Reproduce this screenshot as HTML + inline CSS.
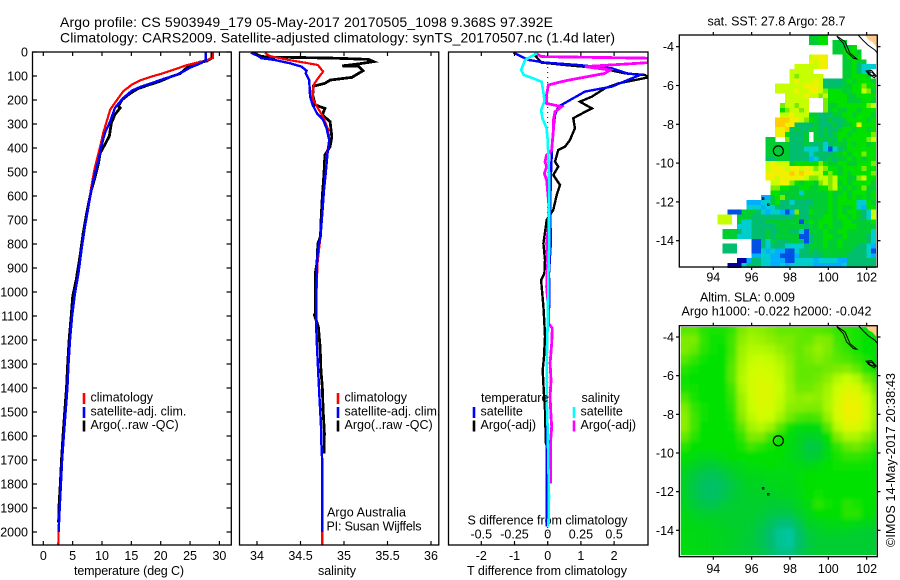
<!DOCTYPE html>
<html lang="en">
<head>
<meta charset="utf-8">
<title>Argo profile CS 5903949_179</title>
<style>
html,body{margin:0;padding:0;background:#fff;width:900px;height:580px;overflow:hidden}
svg{display:block}
text{font-family:"Liberation Sans",sans-serif;font-size:12.5px;fill:#000}
</style>
</head>
<body>
<svg id="chart" xmlns="http://www.w3.org/2000/svg" width="900" height="580" viewBox="0 0 900 580">
<defs>
<clipPath id="clip-t"><rect x="33" y="52" width="198" height="493"/></clipPath>
<clipPath id="clip-s"><rect x="240" y="52" width="199" height="493"/></clipPath>
<clipPath id="clip-d"><rect x="449" y="52" width="199" height="493"/></clipPath>
<clipPath id="clip-m2"><rect x="680.8" y="327" width="195.4" height="228"/></clipPath>
<filter id="sla-blur" x="-5%" y="-5%" width="110%" height="110%"><feGaussianBlur stdDeviation="2.4"/></filter>
</defs>
<text x="60" y="27" font-size="14" style="font-size:14px" textLength="493">Argo profile: CS 5903949_179 05-May-2017 20170505_1098 9.368S 97.392E</text>
<text x="60" y="42.5" style="font-size:14px" textLength="555">Climatology: CARS2009. Satellite-adjusted climatology: synTS_20170507.nc (1.4d later)</text>
<text x="74" y="575" textLength="110">temperature (deg C)</text>
<text x="318" y="575" textLength="38">salinity</text>
<text x="467" y="575" textLength="160">T difference from climatology</text>
<text x="467.5" y="524.5" textLength="160">S difference from climatology</text>
<text x="327" y="516.5" textLength="79">Argo Australia</text>
<text x="326.5" y="530.5" textLength="95">PI: Susan Wijffels</text>
<text x="707.5" y="25.5" textLength="138">sat. SST: 27.8 Argo: 28.7</text>
<text x="700" y="301.5" textLength="95">Altim. SLA: 0.009</text>
<text x="681.5" y="315.5" textLength="190">Argo h1000: -0.022 h2000: -0.042</text>
<text transform="translate(895,547) rotate(-90)" textLength="174">©IMOS 14-May-2017 20:38:43</text>
</svg>
<script>
// ---------- temperature panel data ----------
var climTempDepth=[0,25,35,45,55,74,88,104,118,136,164,212,240,289,337,393,442,490,574,643,726,824,921,1004,1100,1200,1300,1400,1500,1600,1700,1800,1900,2000,2054];
var climTemp=[28.9,28.9,27.8,26.1,24.4,22.2,20.5,18.2,16.5,15.1,13.6,12.2,11.4,10.8,10.2,9.7,9.2,8.7,8.1,7.7,7.1,6.5,6,5.4,4.9,4.55,4.3,4.1,3.8,3.5,3.2,3,2.8,2.6,2.55];
var satTempDepth=[0,32,45,65,85,100,112,132,146,161,192,233,289,337,393,449,504,574,643,726,824,921,1004,1100,1200,1300,1400,1500,1600,1700,1800,1900,2000];
var satTemp=[27.7,27.7,27,25,23.6,22.2,20.5,18.2,16.5,15.1,13.6,12.2,11.4,10.5,9.9,9.4,8.8,8.2,7.7,7.1,6.5,6,5.4,4.9,4.55,4.3,4.1,3.8,3.5,3.2,3,2.8,2.6];
var argoTempDepth=[0,25,38,42,53,67,90,104,122,140,154,178,199,226,233,261,296,351,386,421,463,532,574,657,754,851,949,1018,1100,1200,1300,1400,1500,1600,1700,1800,1900,1960];
var argoTemp=[28.75,28.75,27.8,26.7,25.3,24.4,23.3,21.6,19.9,17.6,16,14.5,13.4,12.8,13.1,12.2,11.6,11.25,10.5,9.7,9.4,8.7,8.2,7.5,6.8,6.25,5.6,5,4.75,4.4,4.15,3.95,3.65,3.35,3.1,2.9,2.65,2.6];
var tempTicks=[0,5,10,15,20,25,30];
var depthTicks=[0,100,200,300,400,500,600,700,800,900,1000,1100,1200,1300,1400,1500,1600,1700,1800,1900,2000];
// ---------- salinity panel data ----------
var climSalDepth=[3,17,33,47,54,82,110,137,193,228,269,325,367,436,506,575,672,769,880,992,1144,1228,1339,1450,1547,1631,1714,2000,2054];
var climSal=[34.09,34.15,34.36,34.59,34.7,34.76,34.7,34.65,34.64,34.69,34.76,34.82,34.83,34.8,34.79,34.77,34.75,34.73,34.695,34.685,34.685,34.69,34.705,34.72,34.735,34.74,34.75,34.75,34.75];
var satSalDepth=[3,17,26,33,47,61,78,89,117,186,221,256,283,318,367,422,506,575,672,769,825,880,992,1144,1228,1339,1450,1547,1631,1714,2000];
var satSal=[33.93,34.015,34.05,34.2,34.38,34.51,34.57,34.56,34.6,34.61,34.64,34.69,34.76,34.8,34.83,34.81,34.79,34.77,34.75,34.73,34.7,34.69,34.68,34.68,34.69,34.705,34.72,34.735,34.74,34.75,34.75];
var argoSalDepth=[3,17,22,22,26,31,40,50,58,58,78,106,117,131,142,179,221,235,262,290,353,394,429,506,603,714,769,797,880,922,1089,1095,1144,1228,1325,1395,1492,1589,1672];
var argoSal=[33.94,34.04,34.13,34.35,34.9,35.28,35.34,35.16,34.98,35.16,35.22,35.09,34.84,34.78,34.65,34.64,34.67,34.78,34.75,34.84,34.86,34.84,34.78,34.77,34.75,34.735,34.73,34.7,34.69,34.67,34.67,34.66,34.705,34.725,34.735,34.75,34.76,34.775,34.77];
var salTicks=[34,34.5,35,35.5,36];
// ---------- difference panel data ----------
var diffSatTDepth=[3,33,44,54,68,89,96,144,165,228,262,367,506,672,783,922,1047,1186,1714,1977];
var diffSatT=[-1.03,-0.58,-0.08,0.92,1.93,2.4,2.78,1.93,1.12,0.32,0.22,0.14,0.1,0.07,0.1,0.04,0.05,-0.02,-0.03,-0.03];
var diffArgoTDepth=[8,44,54,68,89,96,106,131,151,186,207,235,249,276,318,367,394,408,457,478,512,554,596,658,700,769,797,867,922,950,1061,1131,1186,1270,1325,1408,1492,1603,1637];
var diffArgoT=[-0.43,-0.18,0.52,1.63,2.33,2.93,3.03,2.13,1.73,1.33,0.97,1.33,1.13,0.77,0.82,0.67,0.52,0.32,0.22,0.32,0.17,0.37,0.27,0.17,-0.03,-0.1,-0.13,-0.08,-0.1,-0.2,-0.13,-0.1,-0.08,-0.11,-0.15,-0.12,-0.08,-0.06,-0.05];
var diffSatSDepth=[5,33,75,96,110,124,186,207,242,276,318,367,506,644,783,922,1131,1297,1436,1575,1853,1977];
var diffSatS=[-0.08,-0.17,-0.2,-0.18,-0.108,-0.045,-0.028,-0.026,-0.05,-0.04,-0.008,0,0.01,0.013,0.013,0.005,0,-0.008,-0.008,0,0.01,0.005];
var diffArgoSDepth=[3,19,26,44,61,75,89,119,137,179,214,228,249,283,325,408,429,457,478,506,533,644,728,797,880,978,1075,1131,1151,1214,1297,1367,1436,1519,1561,1631,1797];
var diffArgoS=[-0.095,-0.05,0.76,0.76,0.28,0.47,0.43,0.14,0.005,-0.008,-0.008,0.105,0.055,0.043,0.043,0.03,-0.008,-0.02,-0.008,-0.025,-0.008,0.01,0.005,-0.008,0,-0.008,0.005,0.005,0.035,0.03,0.018,0.025,0.018,0.025,0.03,0.02,0.02];
var tDiffTicks=[-2,-1,0,1,2];
var sDiffTicks=[-0.5,-0.25,0,0.25,0.5];
var sDiffLabels=['-0.5','-0.25','0','0.25','0.5'];
// ---------- map data ----------
var lonTicks=[94,96,98,100,102];
var latTicks=[-4,-6,-8,-10,-12,-14];
var argoLon=97.392;
var argoLat=-9.368;
// sat SST colour-level per 0.25 degree cell ('.' = no data)
var sstRows=[
"...........................5566",
"...........................5566.555",
"................................55556",
"................................556665",
"...........................8999...5656",
"...........................9899...55655",
"........................8888899...5564333",
".......................88888......556433",
".......................8788888....556665",
".......................89888984444" + "5656665",
"....................8888889998" + "44445566766",
"....................88889889987666" + "5566875",
"......................88889887866665" + "56666",
"......................88888...7666655" + "5665",
".....................788788...75566666" + "678",
".....................678878...75655665" + "666",
".....................889888554445" + "56656665",
"....................aaa99876" + "5445445666656",
"....................aa99444454" + "44545569666",
"....................99a4544554544566566" + "56",
"....................996" + "4445.545456656" + "6667",
"..................55..7444" + "5.554546566" + "6678",
"..................55555" + "4445" + "44" + "4345" + "5565" + "6656",
"..................55555" + "4443" + "33" + "4313" + "4566" + "6666",
"..................55555" + "4444" + "34" + "4445" + "5656" + "6766",
"..................44555" + "4444" + "23" + "4454" + "5565" + "6566",
"..................89888" + "5666" + "66" + "7655" + "6655" + "6667",
"..................89998" + "9989" + "87" + "8766" + "5666" + "6766",
"..................99999" + "a9a9" + "98" + "8676" + "5656" + "6667",
"..................99899" + "9998" + "77" + "8878" + "6655" + "7866",
"...................8899" + "7656" + "65" + "7878" + "5656" + "6665",
"...................7766" + "5566" + "55" + "6678" + "6565" + "6755",
"...................6655" + "5535" + "55" + "5565" + "5656" + "6656",
".................2256" + "75" + "5555" + "55" + "5565" + "6656" + "5656",
"..............22233" + "56" + "44" + "3444" + "45" + "5565" + "6666" + "3365",
"..............33323" + "34" + "44" + "4444" + "55" + "5565" + "6556" + "3266",
"..........1115" + "554" + "32" + "33" + "21" + "2744" + "65" + "5565" + "6566" + "5438",
"........888.55" + "544" + "44" + "44" + "44" + "4544" + "55" + "5665" + "6656" + "5438",
"........888.53" + "344" + "45" + "55" + "55" + "5515" + "65" + "6665" + "5665" + "5556",
"............33" + "344" + "44" + "45" + "55" + "5554" + "55" + "6565" + "5666" + "5555",
".........55543" + "344" + "45" + "44" + "55" + "4431" + "55" + "5655" + "6655" + "5553",
".........55533" + "344" + "45" + "45" + "55" + "5511" + "45" + "5665" + "5655" + "5543",
"...............11" + "43" + "54" + "44" + "5541" + "45" + "5655" + "6555" + "5543",
".........444...11" + "43" + "44" + "43" + "3334" + "55" + "5655" + "6555" + "4432",
".........444...11" + "32" + "32" + "21" + "1344" + "54" + "5555" + "5554" + "4431",
"...............22" + "33" + "22" + "11" + "1244" + "44" + "4555" + "5544" + "4432",
"............002" + "44" + "33" + "22" + "21" + "1333" + "32" + "3333" + "2244" + "4444",
"..........0003" + "4" + "44" + "33" + "22" + "32" + "3333" + "32" + "2222" + "2344" + "4444"
];
// altimetry SLA colour-level per 0.5 degree cell
var slaRows=[
[6.7,6.7,6.3,6.2,6.2,6.4,7.0,7.3,7.2,7.0,6.8,6.8,6.8,6.7,6.7,6.6,6.4,6.3,6.2,6,6],
[7.0,7.0,6.4,6.1,6.1,6.5,7.2,7.5,7.4,7.2,7.0,7.0,6.8,6.8,7.1,7.0,6.5,6.3,6.2,6,6],
[7.0,6.8,6.3,6.1,6.0,6.5,7.4,7.7,7.7,7.6,7.3,7.0,6.8,7.0,7.3,7.0,6.6,6.4,6.2,6,6],
[6.7,6.4,6.1,6.0,6.0,6.6,7.5,7.9,8.0,7.9,7.6,7.2,6.8,6.9,7.1,6.9,6.7,6.6,6.4,6.2,6],
[6.3,6.1,6.0,6.0,6.0,6.7,7.6,8.1,8.2,8.1,7.8,7.3,6.8,6.8,6.8,6.9,7.0,7.1,6.8,6.3,6],
[6.1,6,6,6,6,6.7,7.7,8.2,8.4,8.3,7.9,7.3,6.8,6.8,6.9,7.2,7.7,8.0,7.7,6.9,6.5],
[6.2,6.1,6,6,6,6.5,7.6,8.2,8.5,8.4,8.0,7.4,6.9,6.9,7.1,7.5,8.1,8.5,8.4,7.6,6.8],
[6.6,6.2,6,6,6,6.4,7.4,8.1,8.5,8.4,7.9,7.4,7.2,7.3,7.2,7.6,8.3,8.8,8.7,8.1,7.2],
[7.0,6.4,6.1,6,6,6.3,7.3,8.0,8.4,8.3,7.8,7.2,7.1,7.0,7.0,7.6,8.4,9.0,8.9,8.2,7.4],
[7.2,6.5,6.1,6,6,6.2,7.1,7.8,8.3,8.1,7.5,6.9,6.6,6.5,6.6,7.3,8.3,8.9,8.8,8.2,7.4],
[7.2,6.5,6.0,6,6,6.1,6.7,7.5,7.7,7.4,6.7,6.1,5.8,5.7,5.8,6.7,7.8,8.5,8.5,7.9,7.2],
[6.8,6.3,6.0,6,6,6,6.4,7.0,7.0,6.5,6.2,5.8,5.4,5.2,5.3,6.0,7.0,7.6,7.6,7.2,6.8],
[6.3,6,6,6,6,6,6.2,6.5,6.3,6.1,6,5.7,5.3,4.7,4.8,5.7,6.4,6.8,6.9,6.7,6.3],
[6,5.8,5.6,5.6,5.7,5.9,6,6.0,6,6,5.9,5.6,5.3,4.9,5.1,5.8,6.2,6.4,6.4,6.3,6.1],
[5.6,5.3,5.0,4.9,5.2,5.4,5.6,5.8,5.8,5.9,5.8,5.7,5.6,5.5,5.7,6,6.1,6.1,6.1,6.1,6],
[5.3,4.8,4.5,4.4,4.6,5.0,5.3,5.5,5.5,5.6,5.6,5.6,5.8,5.9,6,6,6,6,6,6,6],
[5.2,4.7,4.2,4.1,4.3,4.7,5.1,5.3,5.3,5.4,5.5,5.5,5.7,5.9,6,6,6,6,6,6,6],
[5.2,4.7,4.3,4.1,4.4,4.8,5.1,5.2,5.2,5.2,5.3,5.4,5.6,5.9,6.1,6,6,6,6,6,6],
[5.3,4.9,4.6,4.5,4.8,5.0,5.1,5.1,5.1,5.0,5.0,5.1,5.4,5.7,6.3,6.1,6,6.3,6.2,6,5.9],
[5.5,5.3,5.1,5.1,5.1,5.1,5.1,5.1,5.0,4.7,4.6,4.6,5.1,5.5,5.9,5.9,5.9,6.3,6.3,5.9,5.7],
[5.6,5.5,5.4,5.3,5.2,5.1,5.1,5.0,4.7,4.3,3.9,3.9,4.5,5.2,5.4,5.6,5.6,5.7,5.6,5.4,5.3],
[5.7,5.6,5.5,5.4,5.3,5.2,5.1,4.9,4.5,4.0,3.6,3.5,4.1,4.8,5.1,5.2,5.2,5.2,5.1,5.0,5.0],
[5.7,5.6,5.5,5.4,5.3,5.2,5.0,4.8,4.5,4.0,3.6,3.5,4.1,4.7,5,5,5,5,5,5,5],
[5.7,5.6,5.5,5.4,5.3,5.1,5.0,4.9,4.6,4.2,3.8,3.8,4.3,4.8,5,5,5,5,5,5,5]
];
// coastline geography (lon/lat)
var landLon=[101.91,102.56,102.56,102.3,102.1,101.91];
var landLat=[-3.4,-3.4,-4.05,-3.75,-3.65,-3.4];
var coastLon=[101.56,101.8,102.07,102.43,102.56];
var coastLat=[-3.4,-3.66,-3.92,-4.17,-4.33];
var islandALon=[100.44,100.87,101.13,101.48,101.31,100.96,100.78,100.53,100.44];
var islandALat=[-3.45,-3.74,-4.34,-4.63,-4.6,-4.26,-3.82,-3.57,-3.45];
var islandBLon=[101.97,102.25,102.5,102.4,102.1,101.97];
var islandBLat=[-5.25,-5.22,-5.5,-5.6,-5.42,-5.25];
var islandCLon=[102.05,102.3,102.42,102.2,102.05];
var islandCLat=[-5.3,-5.32,-5.5,-5.45,-5.3];
var cocosLon=[96.87,96.6];
var cocosLat=[-12.14,-11.83];

var svg=document.getElementById('chart');
var NS='http://www.w3.org/2000/svg';
function add(tag,name,attrs,parent){
  var el=document.createElementNS(NS,tag);
  
  
  for(var k in attrs){el.setAttribute(k,attrs[k]);}
  (parent||svg).appendChild(el);
  return el;
}
function label(str,x,y,anchor,name){
  var t=add('text',name,{x:x,y:y,'text-anchor':anchor||'middle'});
  t.textContent=str;
  return t;
}
// axis functions
function yDepth(d){return 52+0.24*d;}
function xTemp(t){return 43.3+5.87*t;}
function xSal(s){return 257+87*(s-34);}
function xTDiff(t){return 547.7+33.2*t;}
function xSDiff(s){return 547.7+132.8*s;}
function lonX(lon){return 713.3+19.17*(lon-94);}
function latY1(lat){return 46.7+19.4*(-4-lat);}
function latY2(lat){return 337+19.33*(-4-lat);}

function profile(xFn,xs,ds,color,width,clip,name){
  var pts=[];
  for(var i=0;i<xs.length;i++){pts.push(xFn(xs[i]).toFixed(1)+','+yDepth(ds[i]).toFixed(1));}
  return add('polyline',name,{points:pts.join(' '),fill:'none',stroke:color,'stroke-width':width,'stroke-linejoin':'miter','shape-rendering':'crispEdges','clip-path':'url(#'+clip+')'});
}
function frame(x,y,w,h,name){
  return add('rect',name,{x:x,y:y,width:w,height:h,fill:'none',stroke:'#000','stroke-width':1.3});
}
function tick(x1,y1,x2,y2,name){
  return add('line',name,{x1:x1,y1:y1,x2:x2,y2:y2,stroke:'#000','stroke-width':1.2});
}
function legendRow(x,y,color,str,name){
  add('line',name+'-swatch',{x1:x,y1:y-8.5,x2:x,y2:y+2.5,stroke:color,'stroke-width':2.6});
  label(str,x+6.5,y,'start',name+'-label');
}

// temperature panel
profile(xTemp,argoTemp,argoTempDepth,'#000',2.8,'clip-t','temperature-argo-line');
profile(xTemp,climTemp,climTempDepth,'#f00',2.2,'clip-t','temperature-climatology-line');
profile(xTemp,satTemp,satTempDepth,'#00f',2.4,'clip-t','temperature-satellite-line');
frame(32.5,52,198.8,493,'temperature-panel-frame');
tempTicks.forEach(function(v){
  tick(xTemp(v),52,xTemp(v),56,'temperature-top-tick');
  tick(xTemp(v),541,xTemp(v),545,'temperature-bottom-tick');
  label(String(v),xTemp(v),560,'middle','temperature-tick-label');
});
depthTicks.forEach(function(d){
  tick(32.5,yDepth(d),37,yDepth(d),'depth-left-tick');
  tick(226.5,yDepth(d),231,yDepth(d),'depth-right-tick');
  label(String(d),28,yDepth(d)+4.5,'end','depth-tick-label');
});
legendRow(84,401.5,'#f00','climatology','temperature-legend-climatology');
legendRow(84,415.5,'#00f','satellite-adj. clim.','temperature-legend-satellite');
legendRow(84,429,'#000','Argo(..raw -QC)','temperature-legend-argo');

// salinity panel
profile(xSal,argoSal,argoSalDepth,'#000',2.8,'clip-s','salinity-argo-line');
profile(xSal,climSal,climSalDepth,'#f00',2.2,'clip-s','salinity-climatology-line');
profile(xSal,satSal,satSalDepth,'#00f',2.4,'clip-s','salinity-satellite-line');
frame(239.5,52,199.3,493,'salinity-panel-frame');
salTicks.forEach(function(v){
  tick(xSal(v),52,xSal(v),56,'salinity-top-tick');
  tick(xSal(v),541,xSal(v),545,'salinity-bottom-tick');
  label(String(v),xSal(v),560,'middle','salinity-tick-label');
});
legendRow(338,401.5,'#f00','climatology','salinity-legend-climatology');
legendRow(338,415.5,'#00f','satellite-adj. clim.','salinity-legend-satellite');
legendRow(338,429,'#000','Argo(..raw -QC)','salinity-legend-argo');

// difference panel
add('line','zero-reference-line',{x1:xTDiff(0),y1:52,x2:xTDiff(0),y2:545,stroke:'#000','stroke-width':1,'stroke-dasharray':'1 4'});
profile(xTDiff,diffArgoT,diffArgoTDepth,'#000',2.4,'clip-d','t-difference-argo-line');
profile(xTDiff,diffSatT,diffSatTDepth,'#00f',2.4,'clip-d','t-difference-satellite-line');
profile(xSDiff,diffArgoS,diffArgoSDepth,'#f0f',2.8,'clip-d','s-difference-argo-line');
profile(xSDiff,diffSatS,diffSatSDepth,'#0ff',2.6,'clip-d','s-difference-satellite-line');
frame(448.5,52,199.5,493,'difference-panel-frame');
tDiffTicks.forEach(function(v){
  tick(xTDiff(v),541,xTDiff(v),545,'t-difference-bottom-tick');
  label(String(v),xTDiff(v),560,'middle','t-difference-tick-label');
});
sDiffTicks.forEach(function(v,i){
  tick(xSDiff(v),52,xSDiff(v),56,'s-difference-top-tick');
  label(sDiffLabels[i],xSDiff(v),538.5,'middle','s-difference-tick-label');
});
label('temperature',481,402,'start','difference-legend-temperature-heading');
label('salinity',581.5,402,'start','difference-legend-salinity-heading');
legendRow(474,415.5,'#00f','satellite','difference-legend-t-satellite');
legendRow(474,429,'#000','Argo(-adj)','difference-legend-t-argo');
legendRow(574,415.5,'#0ff','satellite','difference-legend-s-satellite');
legendRow(574,429,'#f0f','Argo(-adj)','difference-legend-s-argo');

// colour scale, one colour per integer level
var levelR=[0,0,0,0,0,0,0,125,200,240,255];
var levelG=[0,80,175,205,190,205,225,235,255,240,205];
var levelB=[170,230,255,205,110,50,0,0,0,0,0];
function levelColor(v){
  var i=Math.max(0,Math.min(9,Math.floor(v))),f=Math.min(1,v-i);
  function m(a){return Math.round(a[i]+(a[i+1]-a[i])*f);}
  return 'rgb('+m(levelR)+','+m(levelG)+','+m(levelB)+')';
}
function coast(latFn,group){
  var pr=function(lons,lats){return lons.map(function(l,i){return lonX(l).toFixed(1)+','+latFn(lats[i]).toFixed(1);}).join(' ');};
  add('polygon','land',{points:pr(landLon,landLat),fill:'#ffc98a',stroke:'none'},group);
  add('polyline','coastline',{points:pr(coastLon,coastLat),fill:'none',stroke:'#000','stroke-width':1},group);
  add('polygon','island-chain',{points:pr(islandALon,islandALat),fill:'none',stroke:'#000','stroke-width':1},group);
  add('polygon','enggano-island',{points:pr(islandBLon,islandBLat),fill:'none',stroke:'#000','stroke-width':1},group);
  add('polygon','enggano-island-inner',{points:pr(islandCLon,islandCLat),fill:'none',stroke:'#000','stroke-width':1},group);
  cocosLon.forEach(function(l,i){
    add('rect','cocos-island',{x:lonX(l)-0.8,y:latFn(cocosLat[i])-0.8,width:1.6,height:1.6,fill:'none',stroke:'#000','stroke-width':0.8},group);
  });
}
function mapAxes(top,bottom,latFn,prefix,lonLabelY){
  frame(679.3,top,198,bottom-top,prefix+'-map-frame');
  lonTicks.forEach(function(l){
    tick(lonX(l),top-3,lonX(l),top,prefix+'-top-tick');
    tick(lonX(l),bottom,lonX(l),bottom+3,prefix+'-bottom-tick');
    label(String(l),lonX(l),lonLabelY,'middle',prefix+'-longitude-label');
  });
  latTicks.forEach(function(l){
    tick(676,latFn(l),679.3,latFn(l),prefix+'-left-tick');
    tick(877.3,latFn(l),880.5,latFn(l),prefix+'-right-tick');
    label(String(l),674,latFn(l)+4.5,'end',prefix+'-latitude-label');
  });
  add('circle',prefix+'-argo-position',{cx:lonX(argoLon),cy:latFn(argoLat),r:5,fill:'none',stroke:'#000','stroke-width':1.2});
}

// SST map
var sstGroup=add('g','sst-field',{'shape-rendering':'crispEdges'});
sstRows.forEach(function(row,r){
  for(var c=0;c<row.length&&c<41;c++){
    if(row[c]==='.')continue;
    var v=parseInt(row[c],36);
    var lon=92.23+0.25*c,lat=-3.4-0.25*r;
    add('rect','sst-cell',{x:lonX(lon).toFixed(2),y:latY1(lat).toFixed(2),width:4.9,height:4.95,fill:levelColor(v)},sstGroup);
  }
});
coast(latY1,add('g','sst-map-coast',{}));
mapAxes(35,267,latY1,'sst','281.5');

// SLA map
var slaClip=add('g','sla-field',{'clip-path':'url(#clip-m2)'});
var slaBase=add('g','sla-base',{'shape-rendering':'crispEdges'},slaClip);
var slaSoft=add('g','sla-smooth',{filter:'url(#sla-blur)'},slaClip);
slaRows.forEach(function(row,r){
  row.forEach(function(v,c){
    var lon=92.23+0.5*c,lat=-3.4-0.5*r;
    var a={x:lonX(lon).toFixed(2),y:latY2(lat).toFixed(2),width:10,height:10.2,fill:levelColor(v)};
    add('rect','sla-cell',a,slaBase);
    add('rect','sla-cell-smooth',a,slaSoft);
  });
});
coast(latY2,add('g','sla-map-coast',{}));
mapAxes(325.7,556.7,latY2,'sla','573');
</script>
</body>
</html>
